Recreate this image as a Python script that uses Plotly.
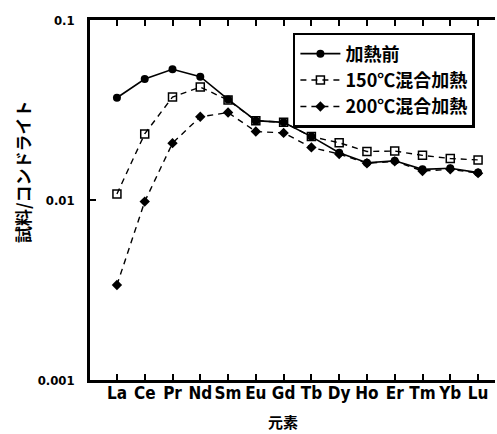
import plotly.graph_objects as go

elements = ["La", "Ce", "Pr", "Nd", "Sm", "Eu", "Gd", "Tb", "Dy", "Ho", "Er", "Tm", "Yb", "Lu"]
before_heating = [0.0370, 0.0470, 0.0532, 0.0484, 0.0362, 0.0276, 0.0270, 0.0225, 0.0183, 0.0161, 0.0165, 0.0148, 0.0150, 0.0142]
mixed_150 = [0.0108, 0.0233, 0.0373, 0.0424, 0.0359, 0.0276, 0.0270, 0.0225, 0.0208, 0.0186, 0.0187, 0.0177, 0.0170, 0.0167]
mixed_200 = [0.00337, 0.0098, 0.0207, 0.0290, 0.0306, 0.0240, 0.0236, 0.0196, 0.0180, 0.0160, 0.0164, 0.0145, 0.0148, 0.0141]
y_ticks = [0.001, 0.01, 0.1]
y_ticktext = ["0.001", "0.01", "0.1"]

JP = "Noto Sans CJK JP"
NUM = "Liberation Sans Narrow, Arial Narrow, DejaVu Sans Condensed, Liberation Sans, Noto Sans CJK JP"

fig = go.Figure()
fig.add_trace(go.Scatter(
    x=elements, y=before_heating, name="加熱前", mode="lines+markers",
    line=dict(color="black", width=1.6),
    marker=dict(symbol="circle", size=8, color="black"),
))
fig.add_trace(go.Scatter(
    x=elements, y=mixed_150, name="150℃混合加熱", mode="lines+markers",
    line=dict(color="black", width=1.4, dash="6px,5px"),
    marker=dict(symbol="square-open", size=8, color="black", line=dict(width=1.5)),
))
fig.add_trace(go.Scatter(
    x=elements, y=mixed_200, name="200℃混合加熱", mode="lines+markers",
    line=dict(color="black", width=1.4, dash="6px,5px"),
    marker=dict(symbol="diamond", size=8, color="black"),
))

fig.update_layout(
    width=497, height=434,
    margin=dict(l=90, r=2, t=20, b=54),
    paper_bgcolor="white", plot_bgcolor="white",
    font=dict(family=JP, color="black", size=14),
    showlegend=True,
    legend=dict(
        x=0.501, y=0.964, xanchor="left", yanchor="top",
        bordercolor="black", borderwidth=2.5, bgcolor="white",
        font=dict(family=JP, size=18, color="black", weight=700),
        tracegroupgap=0, itemwidth=40,
    ),
    xaxis=dict(
        type="category", range=[-0.97, 13.61],
        showline=True, linecolor="black", linewidth=2.5, mirror="ticks",
        ticks="inside", ticklen=6, tickwidth=2, tickcolor="black",
        showgrid=False, zeroline=False,
        tickfont=dict(family=NUM, size=17, color="black", weight=700),
        ticklabelstandoff=-4,
    ),
    yaxis=dict(
        type="log", range=[-3, -1],
        tickvals=y_ticks, ticktext=y_ticktext,
        showline=True, linecolor="black", linewidth=2.5,
        ticks="inside", ticklen=6, tickwidth=2, tickcolor="black",
        showgrid=False, zeroline=False,
        tickfont=dict(family=NUM, size=13, color="black", weight=700),
        ticklabelstandoff=10,
    ),
    annotations=[
        dict(text="元素", x=0.477, y=-0.114, xref="paper", yref="paper",
             xanchor="center", yanchor="middle", showarrow=False,
             font=dict(family=JP, size=15, color="black", weight=700)),
        dict(text="試料/コンドライト", x=-0.165, y=0.578, xref="paper", yref="paper",
             xanchor="center", yanchor="middle", showarrow=False, textangle=-90,
             font=dict(family=JP, size=17, color="black", weight=700)),
    ],
)

fig.write_html("out.html")
